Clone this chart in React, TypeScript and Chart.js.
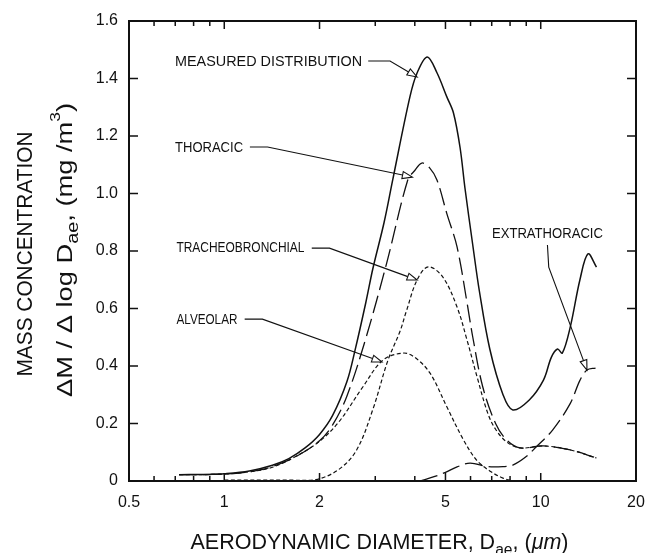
import React, { useEffect, useRef } from 'react';
import { Chart, registerables } from 'chart.js';

Chart.register(...registerables);

// ---------- data ----------
const measuredX = [0.72, 0.9, 1.0, 1.2, 1.42, 1.6, 1.8, 2.0, 2.2, 2.44, 2.59, 2.8, 2.95, 3.2, 3.41, 3.86, 4.07, 4.38, 4.7, 5.05, 5.3, 5.56, 5.76, 6.1, 6.4, 6.9, 7.6, 8.16, 9.2, 10.2, 10.8, 11.3, 11.7, 12.4, 13.3, 14.1, 15.0];
const measuredY = [0.022, 0.023, 0.025, 0.035, 0.055, 0.078, 0.115, 0.162, 0.228, 0.345, 0.455, 0.62, 0.74, 0.9, 1.05, 1.336, 1.42, 1.475, 1.42, 1.336, 1.28, 1.16, 1.02, 0.82, 0.66, 0.46, 0.30, 0.247, 0.282, 0.351, 0.43, 0.459, 0.445, 0.536, 0.70, 0.79, 0.744];

const thoracicX = [0.72, 1.0, 1.2, 1.42, 1.73, 2.0, 2.2, 2.44, 2.79, 3.26, 3.8, 4.0, 4.21, 4.45, 4.7, 5.05, 5.44, 5.85, 6.1, 6.56, 7.2, 7.8, 8.6, 10.2, 12.4, 15.0];
const thoracicY = [0.022, 0.024, 0.032, 0.05, 0.092, 0.14, 0.195, 0.295, 0.49, 0.758, 1.047, 1.08, 1.106, 1.09, 1.047, 0.93, 0.814, 0.62, 0.5, 0.327, 0.2, 0.143, 0.115, 0.122, 0.108, 0.08];

const tracheoX = [1.0, 1.6, 1.95, 2.3, 2.62, 2.95, 3.29, 3.59, 3.76, 4.07, 4.41, 4.9, 5.44, 5.85, 6.3, 6.8, 7.2, 7.8, 8.6, 10.2, 12.4, 15.0];
const tracheoY = [0.003, 0.003, 0.005, 0.04, 0.108, 0.25, 0.42, 0.52, 0.59, 0.70, 0.745, 0.71, 0.605, 0.49, 0.36, 0.236, 0.18, 0.136, 0.115, 0.122, 0.108, 0.08];

const alveolarX = [0.72, 1.0, 1.2, 1.42, 1.7, 2.0, 2.3, 2.74, 3.17, 3.67, 4.0, 4.47, 5.05, 5.7, 6.27, 6.9, 7.6, 8.2];
const alveolarY = [0.022, 0.024, 0.032, 0.048, 0.088, 0.138, 0.205, 0.327, 0.42, 0.445, 0.43, 0.375, 0.258, 0.143, 0.073, 0.035, 0.01, 0.0];

const extraX = [4.16, 4.6, 5.0, 5.44, 5.98, 6.8, 7.6, 8.16, 9.0, 9.7, 10.9, 12.4, 13.3, 14.0, 14.9];
const extraY = [0.0, 0.015, 0.03, 0.049, 0.062, 0.05, 0.05, 0.055, 0.085, 0.12, 0.177, 0.27, 0.35, 0.386, 0.393];

const xMajorTicks = [0.5, 1, 2, 5, 10, 20];
const xTickLabels = ['0.5', '1', '2', '5', '10', '20'];
const xMinorTicks = [0.6, 0.7, 0.8, 0.9, 3, 4, 6, 7, 8, 9];
const yTicks = [0, 0.2, 0.4, 0.6, 0.8, 1.0, 1.2, 1.4, 1.6];
const yTickLabels = ['0', '0.2', '0.4', '0.6', '0.8', '1.0', '1.2', '1.4', '1.6'];

// callout labels: text, label anchor (x µm, y value), leader path (data units), arrow tip last
const calloutTexts = ['MEASURED DISTRIBUTION', 'THORACIC', 'TRACHEOBRONCHIAL', 'ALVEOLAR', 'EXTRATHORACIC'];
const calloutAnchors = [[0.699, 1.457], [0.699, 1.158], [0.706, 0.81], [0.706, 0.56], [10.5, 0.859]];
const calloutPaths = [
  [[2.85, 1.461], [3.34, 1.461], [4.07, 1.405]],
  [[1.205, 1.162], [1.37, 1.162], [3.93, 1.057]],
  [[1.89, 0.81], [2.15, 0.81], [4.07, 0.699]],
  [[1.16, 0.563], [1.32, 0.563], [3.15, 0.414]],
  [[10.5, 0.821], [10.6, 0.744], [14.0, 0.386]],
];

// ---------- styling ----------
const FONT = '"Liberation Sans Narrow", "Liberation Sans", Arial, sans-serif';
const TITLE_FONT = '"Liberation Sans", Arial, sans-serif';
const INK = '#111';

const calloutWidths = [187, 68, 128, 61, 111];
const calloutAlign = ['left', 'left', 'left', 'left', 'center'];

type Run = { t: string; size: number; dy?: number; italic?: boolean };

function drawRuns(ctx: CanvasRenderingContext2D, runs: Run[], target: number) {
  let total = 0;
  const widths = runs.map((r) => {
    ctx.font = `${r.italic ? 'italic ' : ''}${r.size}px ${TITLE_FONT}`;
    const w = ctx.measureText(r.t).width;
    total += w;
    return w;
  });
  const sx = target / total;
  ctx.save();
  ctx.scale(sx, 1);
  let cx = -total / 2;
  runs.forEach((r, i) => {
    ctx.font = `${r.italic ? 'italic ' : ''}${r.size}px ${TITLE_FONT}`;
    ctx.fillText(r.t, cx, r.dy || 0);
    cx += widths[i];
  });
  ctx.restore();
}

function makeDataset(label: string, xs: number[], ys: number[], dash: number[], width: number) {
  return {
    label,
    data: xs.map((x, i) => ({ x, y: ys[i] })),
    borderColor: INK,
    borderWidth: width,
    borderDash: dash,
    pointRadius: 0,
    showLine: true,
    fill: false,
    tension: 0.35,
  };
}

const decorPlugin = {
  id: 'decor',
  afterDraw(chart: any) {
    const ctx: CanvasRenderingContext2D = chart.ctx;
    const xs = chart.scales.x;
    const ys = chart.scales.y;
    const { left, right, top, bottom } = chart.chartArea;
    ctx.save();
    ctx.strokeStyle = INK;
    ctx.fillStyle = INK;

    // frame
    ctx.lineWidth = 2;
    ctx.strokeRect(left, top, right - left, bottom - top);

    // ticks
    ctx.lineWidth = 1.5;
    ctx.beginPath();
    const xt = (v: number, len: number) => {
      const px = xs.getPixelForValue(v);
      ctx.moveTo(px, bottom);
      ctx.lineTo(px, bottom - len);
      ctx.moveTo(px, top);
      ctx.lineTo(px, top + len);
    };
    xMajorTicks.forEach((v) => xt(v, 8));
    xMinorTicks.forEach((v) => xt(v, 5));
    yTicks.forEach((v) => {
      const py = ys.getPixelForValue(v);
      ctx.moveTo(left, py);
      ctx.lineTo(left + 9, py);
      ctx.moveTo(right, py);
      ctx.lineTo(right - 9, py);
    });
    ctx.stroke();

    // callouts
    ctx.lineWidth = 1.1;
    calloutTexts.forEach((txt, i) => {
      const [ax, ay] = calloutAnchors[i];
      const px = xs.getPixelForValue(ax);
      const py = ys.getPixelForValue(ay);
      ctx.font = `15px ${FONT}`;
      ctx.textBaseline = 'middle';
      ctx.textAlign = calloutAlign[i] as CanvasTextAlign;
      ctx.fillText(txt, px, py, calloutWidths[i]);
      const pts = calloutPaths[i].map(([x, y]) => [xs.getPixelForValue(x), ys.getPixelForValue(y)]);
      const n = pts.length;
      const [tx, ty] = pts[n - 1];
      const [bx, by] = pts[n - 2];
      const ang = Math.atan2(ty - by, tx - bx);
      const L = 10;
      const W = 3.5;
      const basex = tx - L * Math.cos(ang);
      const basey = ty - L * Math.sin(ang);
      ctx.beginPath();
      ctx.moveTo(pts[0][0], pts[0][1]);
      for (let k = 1; k < n - 1; k++) ctx.lineTo(pts[k][0], pts[k][1]);
      ctx.lineTo(basex, basey);
      ctx.stroke();
      ctx.beginPath();
      ctx.moveTo(tx, ty);
      ctx.lineTo(basex - W * Math.sin(ang), basey + W * Math.cos(ang));
      ctx.lineTo(basex + W * Math.sin(ang), basey - W * Math.cos(ang));
      ctx.closePath();
      ctx.fillStyle = '#fff';
      ctx.fill();
      ctx.stroke();
      ctx.fillStyle = INK;
    });

    // axis titles
    ctx.textAlign = 'left';
    ctx.textBaseline = 'alphabetic';
    ctx.fillStyle = INK;
    ctx.save();
    ctx.translate((left + right) / 2 - 3, 549);
    drawRuns(ctx, [
      { t: 'AERODYNAMIC DIAMETER, D', size: 22 },
      { t: 'ae', size: 16, dy: 6 },
      { t: ', (', size: 22 },
      { t: 'μm', size: 22, italic: true },
      { t: ')', size: 22 },
    ], 378);
    ctx.restore();

    ctx.save();
    ctx.translate(32, 254);
    ctx.rotate(-Math.PI / 2);
    drawRuns(ctx, [{ t: 'MASS CONCENTRATION', size: 22 }], 245);
    ctx.restore();

    ctx.save();
    ctx.translate(72, 250);
    ctx.rotate(-Math.PI / 2);
    drawRuns(ctx, [
      { t: 'ΔM / Δ log D', size: 22 },
      { t: 'ae', size: 16, dy: 6 },
      { t: ', (mg /m', size: 22 },
      { t: '3', size: 14, dy: -12 },
      { t: ')', size: 22 },
    ], 294);
    ctx.restore();

    ctx.restore();
  },
};

export default function App() {
  const ref = useRef<HTMLCanvasElement>(null);
  useEffect(() => {
    if (!ref.current) return;
    const chart = new Chart(ref.current, {
      type: 'scatter',
      data: {
        datasets: [
          makeDataset('Measured distribution', measuredX, measuredY, [], 1.5),
          makeDataset('Thoracic', thoracicX, thoracicY, [18, 6], 1.3),
          makeDataset('Tracheobronchial', tracheoX, tracheoY, [4, 2.5], 1.2),
          makeDataset('Alveolar', alveolarX, alveolarY, [4, 2.5], 1.2),
          makeDataset('Extrathoracic', extraX, extraY, [18, 6], 1.3),
        ] as any,
      },
      options: {
        animation: false,
        responsive: false,
        devicePixelRatio: 1,
        layout: { padding: { top: 21, right: 10, left: 0, bottom: 0 } },
        plugins: { legend: { display: false }, tooltip: { enabled: false } },
        scales: {
          x: {
            type: 'logarithmic',
            min: 0.5,
            max: 20,
            grid: { display: false, drawTicks: false },
            border: { display: false },
            afterBuildTicks: (s: any) => {
              s.ticks = xMajorTicks.map((v) => ({ value: v }));
            },
            afterFit: (s: any) => {
              s.height = 72;
              s.paddingLeft = 0;
              s.paddingRight = 0;
            },
            ticks: {
              autoSkip: false,
              maxRotation: 0,
              minRotation: 0,
              padding: 12,
              color: INK,
              font: { family: FONT, size: 16 },
              callback: (_v: any, i: number) => xTickLabels[i],
            },
          },
          y: {
            type: 'linear',
            min: 0,
            max: 1.6,
            grid: { display: false, drawTicks: false },
            border: { display: false },
            afterBuildTicks: (s: any) => {
              s.ticks = yTicks.map((v) => ({ value: v }));
            },
            afterFit: (s: any) => {
              s.width = 129;
              s.paddingTop = 0;
              s.paddingBottom = 0;
            },
            ticks: {
              padding: 11,
              color: INK,
              font: { family: FONT, size: 16 },
              callback: (_v: any, i: number) => yTickLabels[i],
            },
          },
        },
      } as any,
      plugins: [decorPlugin],
    });
    return () => chart.destroy();
  }, []);
  return (
    <div style={{ position: 'fixed', left: 0, top: 0, width: 646, height: 553, background: '#fff' }}>
      <canvas ref={ref} width={646} height={553} style={{ display: 'block' }} />
    </div>
  );
}
